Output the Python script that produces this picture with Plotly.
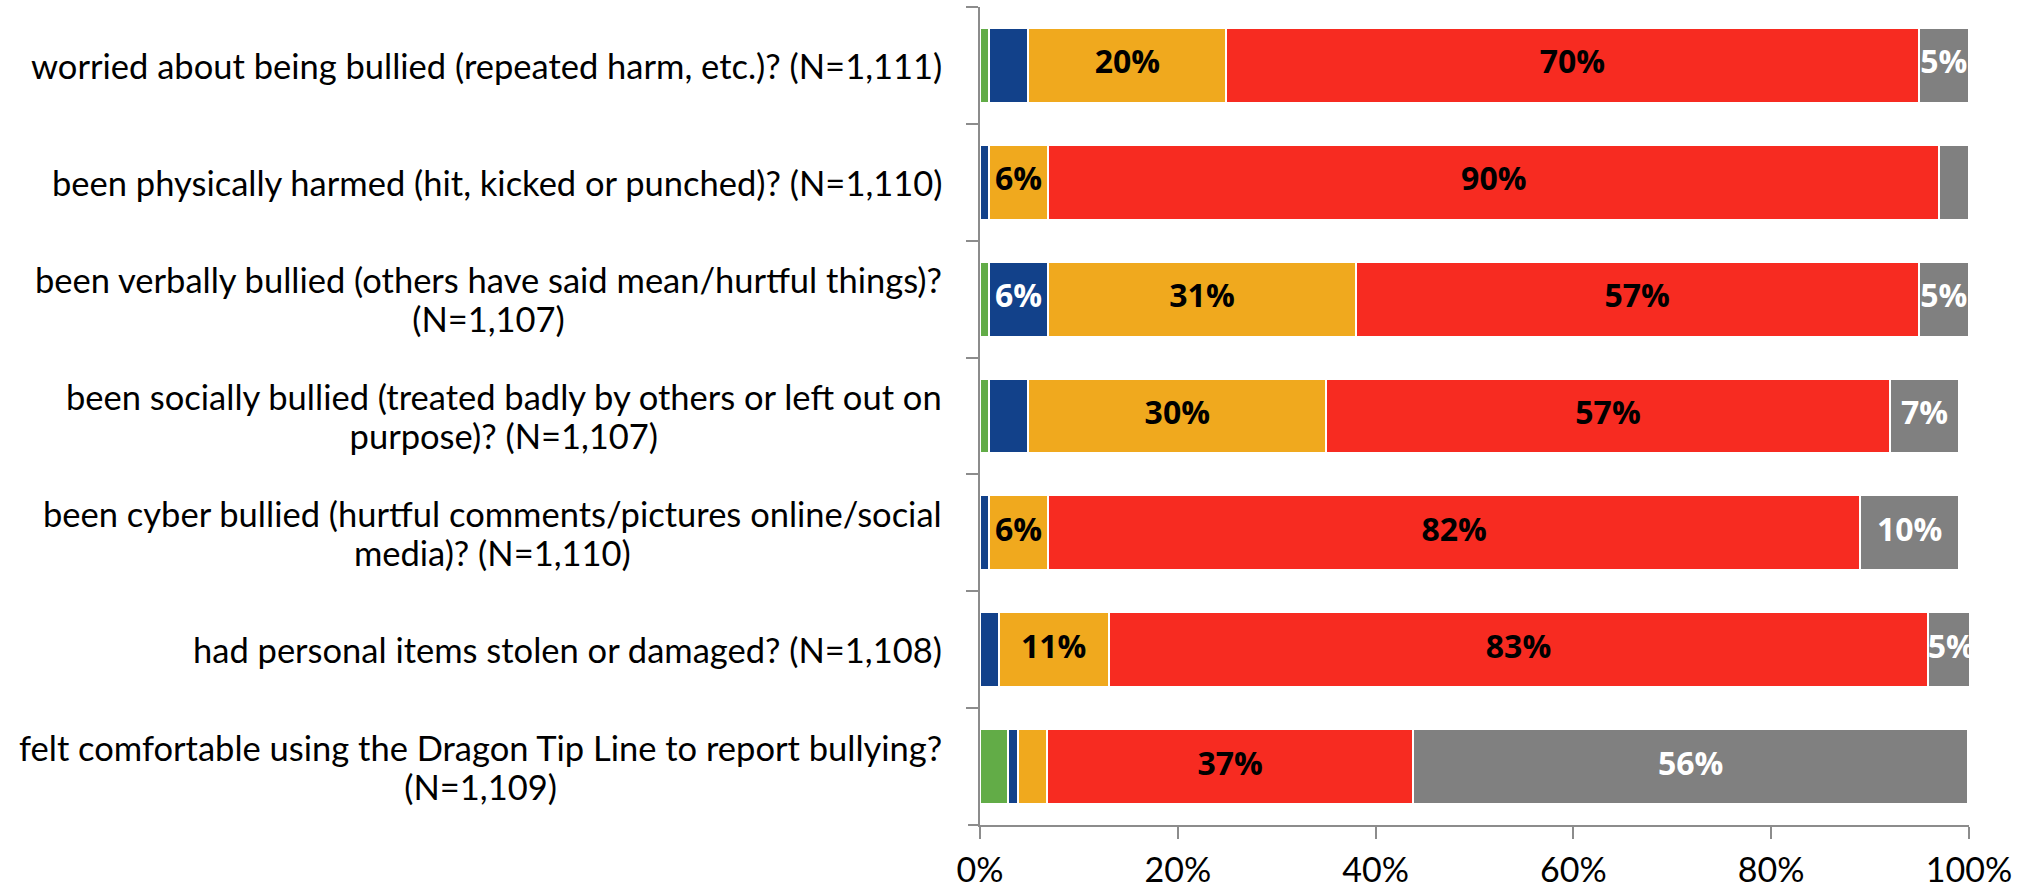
import plotly.graph_objects as go

categories = [
    "worried about being bullied (repeated harm, etc.)? (N=1,111)",
    "been physically harmed (hit, kicked or punched)? (N=1,110)",
    "been verbally bullied (others have said mean/hurtful things)?<br>(N=1,107)",
    "been socially bullied (treated badly by others or left out on<br>purpose)? (N=1,107)",
    "been cyber bullied (hurtful comments/pictures online/social<br>media)? (N=1,110)",
    "had personal items stolen or damaged? (N=1,108)",
    "felt comfortable using the Dragon Tip Line to report bullying?<br>(N=1,109)",
]

always = [0.9, 0, 0.9, 0.9, 0, 0, 2.8]
often = [4.0, 0.9, 6.0, 4.0, 0.9, 1.9, 1.0]
sometimes = [20.0, 6.0, 31.1, 30.1, 6.0, 11.1, 3.0]
never = [70.0, 90.1, 56.9, 57.0, 82.1, 82.9, 37.0]
unsure = [5.1, 3.0, 5.1, 7.0, 10.0, 4.6, 56.1]

tick_vals = [0, 20, 40, 60, 80, 100]
tick_text = [f"{v}%" for v in tick_vals]

series = [
    ("Always", always, "#62AC47", "#FFFFFF"),
    ("Often", often, "#12418A", "#FFFFFF"),
    ("Sometimes", sometimes, "#F0A91E", "#000000"),
    ("Never", never, "#F72B21", "#000000"),
    ("Not sure", unsure, "#808080", "#FFFFFF"),
]

fig = go.Figure()
starts = [0.0] * len(categories)
label_traces = []
for name, vals, color, tcolor in series:
    fig.add_trace(go.Bar(
        y=categories, x=vals, name=name, orientation="h",
        marker=dict(color=color, line=dict(color="#FFFFFF", width=2)),
        cliponaxis=False, hoverinfo="x+y+name",
    ))
    centers = [s + v / 2 for s, v in zip(starts, vals)]
    texts = [f"{round(v)}%" if v >= 4.5 else "" for v in vals]
    label_traces.append(go.Scatter(
        x=centers, y=categories, mode="text", text=texts,
        textposition="middle center",
        textfont=dict(family="Open Sans", size=32, color=tcolor, weight="bold"),
        cliponaxis=False, hoverinfo="skip", showlegend=False,
    ))
    starts = [s + v for s, v in zip(starts, vals)]

for tr in label_traces:
    fig.add_trace(tr)

axis_color = "#8C8C8C"
fig.update_layout(
    barmode="stack",
    bargap=0.36,
    width=2030, height=895,
    margin=dict(l=980, r=61, t=7, b=70, pad=0),
    plot_bgcolor="white", paper_bgcolor="white",
    showlegend=False,
    font=dict(family="Lato", color="#000000"),
    xaxis=dict(
        range=[0, 100], tickmode="array", tickvals=tick_vals, ticktext=tick_text,
        showgrid=False, zeroline=False,
        showline=True, linecolor=axis_color, linewidth=2,
        ticks="outside", ticklen=12, tickwidth=2, tickcolor=axis_color,
        tickfont=dict(family="Lato", size=34, color="#000000"),
        ticklabelstandoff=2,
    ),
    yaxis=dict(
        type="category", range=[6.5, -0.5], autorange=False,
        showticklabels=False, showgrid=False, zeroline=False,
        showline=True, linecolor=axis_color, linewidth=2,
        ticks="outside", ticklen=12, tickwidth=2, tickcolor=axis_color,
        tickson="boundaries",
    ),
)

label_px = 34.5
for cat in categories:
    lines = cat.split("<br>")
    styled = "<br>".join(f'<span style="font-size:{label_px}px">{ln}</span>' for ln in lines)
    fig.add_annotation(
        xref="paper", yref="y", x=0, y=cat, xanchor="right", yanchor="middle",
        xshift=-36, text=styled, showarrow=False, align="center",
        font=dict(family="Lato", size=30, color="#000000"),
    )

# x-axis line extension under the y-axis ticks
fig.add_shape(type="line", xref="paper", yref="paper", x0=-0.0121, x1=0, y0=0, y1=0,
              line=dict(color=axis_color, width=2))

fig.write_html("out.html",
               config={"displayModeBar": False},
               post_script="document.body.style.margin='0';document.body.style.overflow='hidden';")
